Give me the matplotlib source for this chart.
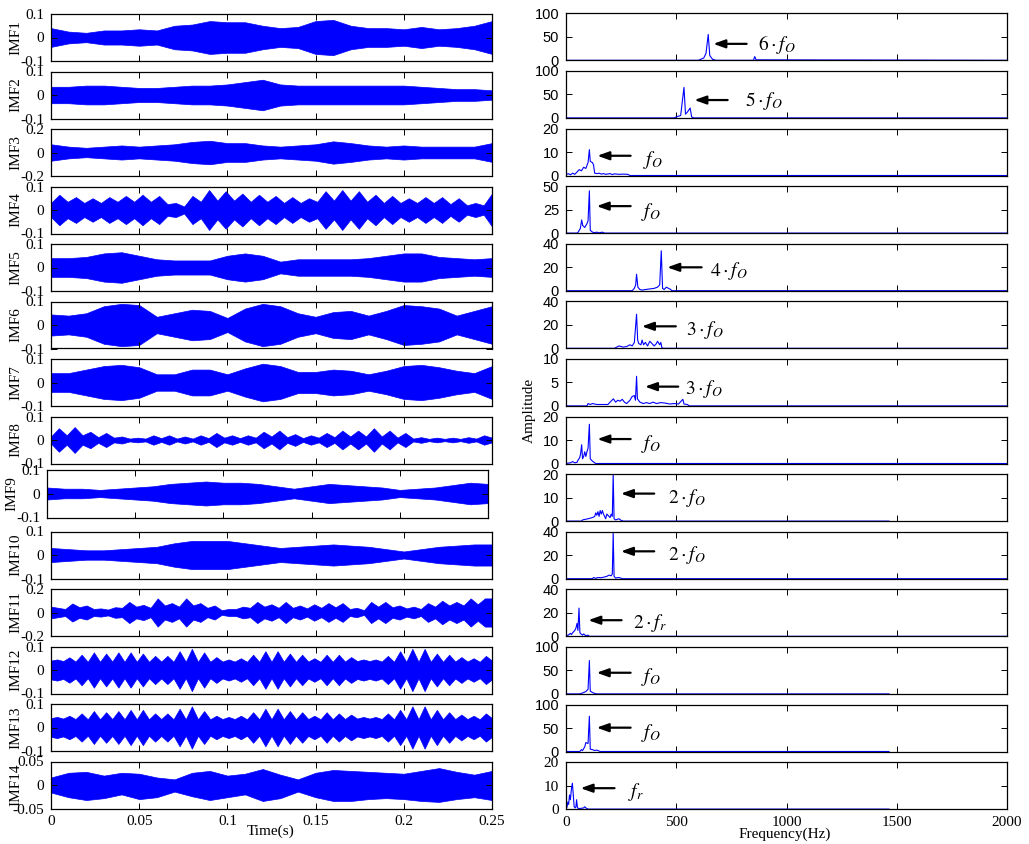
import numpy as np
import matplotlib
matplotlib.use('Agg')
import matplotlib.pyplot as plt

plt.rcParams['mathtext.fontset'] = 'stix'

W, H = 1029, 844
SERIF = 'Liberation Serif'
SANS = 'Liberation Sans'

# ---- left column: envelope of each IMF ----
imf_names = ['IMF1', 'IMF2', 'IMF3', 'IMF4', 'IMF5', 'IMF6', 'IMF7',
             'IMF8', 'IMF9', 'IMF10', 'IMF11', 'IMF12', 'IMF13', 'IMF14']
imf_lims = [0.1, 0.1, 0.2, 0.1, 0.1, 0.1, 0.1, 0.1, 0.1, 0.1, 0.2, 0.1, 0.1, 0.05]
imf_ticklabels = [['-0.1', '0', '0.1'], ['-0.1', '0', '0.1'], ['-0.2', '0', '0.2'],
                  ['-0.1', '0', '0.1'], ['-0.1', '0', '0.1'], ['-0.1', '0', '0.1'],
                  ['-0.1', '0', '0.1'], ['-0.1', '0', '0.1'], ['-0.1', '0', '0.1'],
                  ['-0.1', '0', '0.1'], ['-0.2', '0', '0.2'], ['-0.1', '0', '0.1'],
                  ['-0.1', '0', '0.1'], ['-0.05', '0', '0.05']]

env1 = [0.04, 0.025, 0.02, 0.03, 0.03, 0.035, 0.03, 0.05, 0.055, 0.07, 0.065, 0.065, 0.05,
        0.04, 0.045, 0.07, 0.075, 0.05, 0.04, 0.04, 0.035, 0.045, 0.035, 0.04, 0.05, 0.07]
env2 = [0.035, 0.035, 0.04, 0.04, 0.035, 0.03, 0.03, 0.035, 0.04, 0.04, 0.045, 0.055, 0.065,
        0.045, 0.04, 0.04, 0.04, 0.04, 0.04, 0.04, 0.04, 0.035, 0.03, 0.025, 0.025, 0.02]
env3 = [0.07, 0.05, 0.04, 0.05, 0.06, 0.05, 0.06, 0.07, 0.09, 0.1, 0.08, 0.08, 0.06,
        0.05, 0.06, 0.07, 0.095, 0.08, 0.06, 0.05, 0.06, 0.05, 0.05, 0.05, 0.05, 0.08]
env4 = [0.03, 0.065, 0.035, 0.055, 0.03, 0.05, 0.03, 0.055, 0.035, 0.06, 0.035, 0.065, 0.035,
        0.06, 0.025, 0.03, 0.015, 0.06, 0.035, 0.085, 0.04, 0.08, 0.04, 0.07, 0.035, 0.065,
        0.035, 0.06, 0.03, 0.055, 0.03, 0.05, 0.035, 0.08, 0.04, 0.085, 0.04, 0.08, 0.035,
        0.065, 0.03, 0.06, 0.03, 0.05, 0.03, 0.055, 0.03, 0.055, 0.025, 0.05, 0.02, 0.03,
        0.02, 0.07]
env5 = [0.04, 0.04, 0.045, 0.06, 0.065, 0.05, 0.035, 0.03, 0.03, 0.03, 0.05, 0.06, 0.05,
        0.025, 0.035, 0.035, 0.035, 0.035, 0.04, 0.05, 0.06, 0.06, 0.045, 0.04, 0.035, 0.04]
env6 = [0.045, 0.04, 0.05, 0.08, 0.09, 0.085, 0.035, 0.05, 0.065, 0.06, 0.03, 0.07, 0.09,
        0.08, 0.05, 0.035, 0.055, 0.06, 0.04, 0.06, 0.085, 0.08, 0.07, 0.04, 0.06, 0.08]
env7 = [0.04, 0.04, 0.055, 0.07, 0.075, 0.065, 0.035, 0.035, 0.055, 0.055, 0.035, 0.06, 0.08,
        0.07, 0.045, 0.045, 0.055, 0.05, 0.035, 0.05, 0.07, 0.075, 0.065, 0.05, 0.04, 0.07]
env8 = [0.015, 0.05, 0.02, 0.055, 0.02, 0.035, 0.012, 0.03, 0.01, 0.015, 0.006, 0.01, 0.006,
        0.02, 0.008, 0.02, 0.006, 0.015, 0.006, 0.02, 0.008, 0.03, 0.01, 0.02, 0.008, 0.02,
        0.01, 0.035, 0.015, 0.04, 0.012, 0.025, 0.008, 0.02, 0.01, 0.03, 0.012, 0.04, 0.015,
        0.04, 0.015, 0.05, 0.015, 0.04, 0.01, 0.03, 0.006, 0.012, 0.005, 0.01, 0.005, 0.01,
        0.005, 0.012, 0.006, 0.02, 0.01]
env9 = [0.025, 0.02, 0.02, 0.015, 0.02, 0.025, 0.03, 0.04, 0.045, 0.05, 0.045, 0.045, 0.04,
        0.03, 0.02, 0.03, 0.04, 0.035, 0.03, 0.025, 0.015, 0.02, 0.025, 0.035, 0.045, 0.04]
env10 = [0.03, 0.025, 0.02, 0.02, 0.025, 0.03, 0.035, 0.05, 0.06, 0.06, 0.06, 0.05, 0.04,
         0.03, 0.035, 0.04, 0.045, 0.04, 0.035, 0.025, 0.015, 0.025, 0.035, 0.04, 0.045, 0.045]
env11 = [0.05, 0.04, 0.03, 0.077, 0.045, 0.06, 0.03, 0.035, 0.025, 0.045, 0.04, 0.09, 0.05,
         0.065, 0.04, 0.12, 0.06, 0.08, 0.05, 0.12, 0.06, 0.08, 0.04, 0.06, 0.02, 0.03, 0.03,
         0.05, 0.04, 0.09, 0.05, 0.07, 0.04, 0.09, 0.04, 0.06, 0.035, 0.07, 0.04, 0.08, 0.045,
         0.08, 0.03, 0.04, 0.02, 0.09, 0.05, 0.09, 0.045, 0.06, 0.035, 0.05, 0.03, 0.08, 0.05,
         0.1, 0.06, 0.09, 0.06, 0.12, 0.07, 0.12, 0.12]
env12 = [0.04, 0.045, 0.038, 0.054, 0.036, 0.065, 0.035, 0.075, 0.035, 0.07, 0.036, 0.075,
         0.035, 0.075, 0.035, 0.07, 0.035, 0.06, 0.036, 0.06, 0.035, 0.08, 0.035, 0.09, 0.035,
         0.075, 0.035, 0.055, 0.036, 0.045, 0.036, 0.05, 0.035, 0.065, 0.035, 0.08, 0.035,
         0.08, 0.035, 0.07, 0.035, 0.065, 0.036, 0.05, 0.035, 0.065, 0.035, 0.065, 0.036,
         0.055, 0.038, 0.045, 0.038, 0.045, 0.036, 0.06, 0.035, 0.08, 0.035, 0.09, 0.035,
         0.09, 0.035, 0.07, 0.035, 0.065, 0.036, 0.055, 0.036, 0.05, 0.035, 0.06, 0.04]
env13 = [0.04, 0.045, 0.038, 0.05, 0.036, 0.06, 0.035, 0.07, 0.035, 0.065, 0.036, 0.07,
         0.035, 0.075, 0.035, 0.075, 0.035, 0.06, 0.036, 0.06, 0.035, 0.08, 0.035, 0.09, 0.035,
         0.07, 0.035, 0.05, 0.036, 0.045, 0.036, 0.05, 0.035, 0.065, 0.035, 0.08, 0.035,
         0.08, 0.035, 0.07, 0.035, 0.065, 0.036, 0.05, 0.035, 0.065, 0.035, 0.06, 0.036,
         0.055, 0.038, 0.045, 0.038, 0.045, 0.036, 0.06, 0.035, 0.075, 0.035, 0.09, 0.035,
         0.09, 0.035, 0.075, 0.035, 0.065, 0.036, 0.055, 0.036, 0.05, 0.035, 0.06, 0.04]
env14_up = [0.016, 0.026, 0.028, 0.02, 0.026, 0.024, 0.016, 0.012, 0.026, 0.03, 0.02, 0.024,
            0.034, 0.022, 0.012, 0.026, 0.032, 0.03, 0.028, 0.026, 0.024, 0.03, 0.036, 0.028,
            0.022, 0.03]
env14_lo = [-0.016, -0.026, -0.032, -0.028, -0.02, -0.03, -0.026, -0.014, -0.024, -0.032,
            -0.026, -0.02, -0.034, -0.028, -0.014, -0.026, -0.034, -0.034, -0.03, -0.028,
            -0.03, -0.034, -0.036, -0.03, -0.026, -0.032]

# ---- right column: spectra (frequency Hz, amplitude) ----
sp1_f = [0, 600, 610, 625, 635, 645, 652, 665, 680, 850, 856, 862, 2000]
sp1_a = [0, 0, 2, 5, 15, 55, 10, 2, 0, 0, 8, 1, 0]
sp2_f = [0, 490, 505, 520, 535, 542, 550, 563, 570, 580, 2000]
sp2_a = [0, 0, 3, 5, 65, 8, 12, 21, 2, 0, 0]
sp3_f = [0, 10, 20, 30, 40, 50, 60, 70, 80, 90, 100, 106, 110, 120, 125, 130, 140, 150, 160,
         170, 180, 200, 210, 220, 240, 260, 280, 290, 2000]
sp3_a = [0.3, 0.8, 0.3, 1.0, 0.5, 1.5, 2.5, 2.0, 3.5, 3.0, 5.5, 11, 6, 5.5, 4.5, 1.0, 0.8,
         1.0, 0.6, 0.8, 0.5, 0.8, 0.4, 0.7, 0.5, 0.6, 0.5, 0, 0]
sp4_f = [0, 50, 55, 65, 71, 76, 85, 95, 100, 106, 110, 120, 130, 140, 150, 165, 175, 2000]
sp4_a = [0, 0, 1, 5, 14, 8, 6, 10, 13, 45, 3, 1, 0.5, 1, 0.3, 1, 0, 0]
sp5_f = [0, 300, 310, 316, 320, 326, 335, 345, 360, 380, 400, 415, 425, 432, 438, 445, 455,
         465, 475, 480, 2000]
sp5_a = [0, 0, 2, 5, 14, 3, 1, 0.5, 1, 1.5, 2, 3, 5, 34, 2, 1, 3, 2, 1, 0, 0]
sp6_f = [0, 220, 230, 240, 250, 260, 275, 290, 300, 310, 320, 325, 330, 340, 345, 352, 360,
         370, 380, 390, 400, 410, 415, 425, 430, 435, 440, 2000]
sp6_a = [0, 0, 1, 2, 1.5, 1, 1.5, 3, 2, 5, 29, 7, 4, 3, 7, 3, 5, 2, 6, 4, 2, 4, 6, 3, 5, 0.5,
         0, 0]
sp7_f = [0, 95, 100, 110, 120, 140, 190, 200, 215, 225, 235, 245, 255, 265, 275, 290, 300,
         310, 315, 320, 324, 335, 350, 365, 380, 395, 410, 430, 450, 470, 490, 510, 530, 535,
         550, 560, 2000]
sp7_a = [0, 0, 0.5, 0.3, 0.5, 0.3, 0.3, 0.8, 1.5, 0.8, 1.2, 1.0, 1.4, 0.8, 0.5, 1.2, 2.0,
         2.2, 1.2, 6.3, 1.5, 0.8, 0.5, 0.7, 0.5, 0.8, 0.5, 0.7, 0.6, 0.4, 0.5, 0.4, 1.4, 0.4,
         0.3, 0, 0]
sp8_f = [0, 20, 30, 40, 50, 55, 62, 66, 71, 75, 80, 85, 90, 95, 100, 106, 110, 120, 130, 135,
         2000]
sp8_a = [0, 0.3, 0.8, 0.3, 0.5, 1.5, 2.5, 4, 8, 2, 3, 5, 3, 5, 6.5, 16.7, 2, 1, 0.3, 0, 0]
sp9_f = [0, 70, 75, 100, 120, 130, 135, 140, 145, 150, 155, 160, 165, 170, 175, 180, 185,
         190, 200, 205, 210, 214, 218, 225, 240, 250, 260, 1465]
sp9_a = [0, 0, 0.5, 1, 1.5, 2, 3.5, 2.5, 4, 2, 4.5, 3, 4.5, 3, 2, 1, 3, 2.5, 1.5, 3, 2, 20,
         1, 0.5, 1, 0.3, 0, 0]
sp10_f = [0, 120, 125, 135, 145, 160, 175, 185, 195, 205, 210, 214, 218, 225, 235, 245, 255,
          2000]
sp10_a = [0, 0, 1, 0.3, 1, 0.8, 1.5, 2, 3, 2.5, 4, 39, 2, 0.5, 1, 0.8, 0, 0]
sp11_f = [0, 10, 20, 25, 30, 35, 40, 45, 50, 54, 59, 63, 68, 75, 80, 90, 100, 105, 2000]
sp11_a = [0.5, 1, 2.5, 1.5, 3, 4, 5, 7, 11, 5, 24, 3, 2, 1, 2, 0.5, 1, 0, 0]
sp12_f = [0, 60, 70, 80, 90, 100, 106, 110, 120, 130, 140, 1465]
sp12_a = [0, 0, 1, 3, 5, 10, 71, 6, 3, 1, 0, 0]
sp13_f = [0, 60, 65, 70, 75, 85, 90, 100, 106, 110, 120, 130, 140, 150, 155, 1465]
sp13_a = [0, 0, 1, 4, 2, 10, 19, 17, 75, 5, 4, 2, 3, 1, 0, 0]
sp14_f = [0, 5, 8, 12, 16, 20, 25, 29, 33, 37, 42, 45, 48, 52, 60, 80, 85, 90, 100, 1465]
sp14_a = [0, 1, 3, 2, 6, 4, 9, 11, 6, 1, 0.5, 1, 4, 0.5, 0.2, 0.5, 1, 0.5, 0, 0]

spec_lims = [100, 100, 20, 50, 40, 40, 10, 20, 20, 40, 40, 100, 100, 20]
spec_labels = [r'$6\cdot f_O$', r'$5\cdot f_O$', r'$f_O$', r'$f_O$', r'$4\cdot f_O$',
               r'$3\cdot f_O$', r'$3\cdot f_O$', r'$f_O$', r'$2\cdot f_O$', r'$2\cdot f_O$',
               r'$2\cdot f_r$', r'$f_O$', r'$f_O$', r'$f_r$']
# arrow head (Hz, amplitude), arrow tail Hz, label start Hz, label amplitude
arrow_head_f = [668, 582, 142, 139, 459, 344, 358, 142, 249, 249, 101, 139, 139, 66]
arrow_head_a = [35, 38, 8.4, 28.7, 19.9, 18.7, 4.1, 10.4, 11.7, 23.3, 13.7, 45, 50.7, 8.9]
arrow_tail_f = [819, 733, 293, 293, 615, 498, 509, 293, 400, 400, 252, 293, 293, 220]
label_f = [872, 811, 350, 338, 652, 542, 539, 340, 464, 464, 305, 338, 338, 282]
label_a = [33, 36, 6.4, 22, 17, 15.6, 3.6, 8.4, 9.7, 20, 11.4, 35, 40, 7.2]

envs = [env1, env2, env3, env4, env5, env6, env7, env8, env9, env10, env11, env12, env13]
spec_f = [sp1_f, sp2_f, sp3_f, sp4_f, sp5_f, sp6_f, sp7_f, sp8_f, sp9_f, sp10_f, sp11_f,
          sp12_f, sp13_f, sp14_f]
spec_a = [sp1_a, sp2_a, sp3_a, sp4_a, sp5_a, sp6_a, sp7_a, sp8_a, sp9_a, sp10_a, sp11_a,
          sp12_a, sp13_a, sp14_a]


def rect(left, top, width, height):
    return [left / W, 1 - (top + height) / H, width / W, height / H]


def style(ax):
    ax.tick_params(direction='in', length=4, width=0.7, top=True, right=True, pad=5)
    for s in ax.spines.values():
        s.set_linewidth(0.9)


fig = plt.figure(figsize=(W / 100, H / 100), dpi=100)

for i in range(14):
    # time signal
    left, top, hh = 51, 14 + i * 57.5, 47
    if i == 8:
        left, top, hh = 47, 469.5, 48
    ax = fig.add_axes(rect(left, top, 441, hh))
    if i < 13:
        e = np.array(envs[i])
        t = np.linspace(0, 0.25, len(e))
        ax.fill_between(t, -e, e, color='blue', lw=0.5)
    else:
        t = np.linspace(0, 0.25, len(env14_up))
        ax.fill_between(t, env14_lo, env14_up, color='blue', lw=0.5)
    lim = imf_lims[i]
    ax.set_xlim(0, 0.25)
    ax.set_ylim(-lim, lim)
    ax.set_yticks([-lim, 0, lim])
    ax.set_yticklabels(imf_ticklabels[i], fontfamily=SERIF, fontsize=11)
    ax.set_xticks([0, 0.05, 0.1, 0.15, 0.2, 0.25])
    if i == 13:
        ax.set_xticklabels(['0', '0.05', '0.1', '0.15', '0.2', '0.25'],
                           fontfamily=SERIF, fontsize=11)
    else:
        ax.set_xticklabels([])
    ax.set_ylabel(imf_names[i], fontfamily=SERIF, fontsize=11)
    ax.yaxis.set_label_coords(-0.064, 0.5)
    style(ax)

    # spectrum
    ax2 = fig.add_axes(rect(566, 13.3 + i * 57.6, 441, 47))
    ax2.plot(spec_f[i], spec_a[i], color='blue', lw=0.8)
    top_lim = spec_lims[i]
    ax2.set_xlim(0, 2000)
    ax2.set_ylim(0, top_lim)
    ax2.set_yticks([0, top_lim / 2, top_lim])
    fam = SERIF if i == 13 else SANS
    fs = 11 if i == 13 else 10.5
    ax2.set_yticklabels([str(int(v)) if float(v).is_integer() else str(v)
                         for v in [0, top_lim / 2, top_lim]], fontfamily=fam, fontsize=fs)
    ax2.set_xticks([0, 500, 1000, 1500, 2000])
    if i == 13:
        ax2.set_xticklabels(['0', '500', '1000', '1500', '2000'], fontfamily=SERIF,
                            fontsize=11)
    else:
        ax2.set_xticklabels([])
    ax2.annotate('', xy=(arrow_head_f[i], arrow_head_a[i]),
                 xytext=(arrow_tail_f[i], arrow_head_a[i]),
                 arrowprops=dict(arrowstyle='-|>,head_length=0.7,head_width=0.25',
                                 color='k', lw=1.6, shrinkA=0, shrinkB=0))
    ax2.text(label_f[i], label_a[i], spec_labels[i], fontsize=14, ha='left', va='center')
    style(ax2)

fig.text(271 / W, 1 - 831 / H, 'Time(s)', fontfamily=SERIF, fontsize=11,
         ha='center', va='center')
fig.text(785 / W, 1 - 834 / H, 'Frequency(Hz)', fontfamily=SERIF, fontsize=11,
         ha='center', va='center')
fig.text(529 / W, 1 - 410 / H, 'Amplitude', fontfamily=SERIF, fontsize=11,
         ha='center', va='center', rotation=90)

fig.savefig('out.png', dpi=100)
